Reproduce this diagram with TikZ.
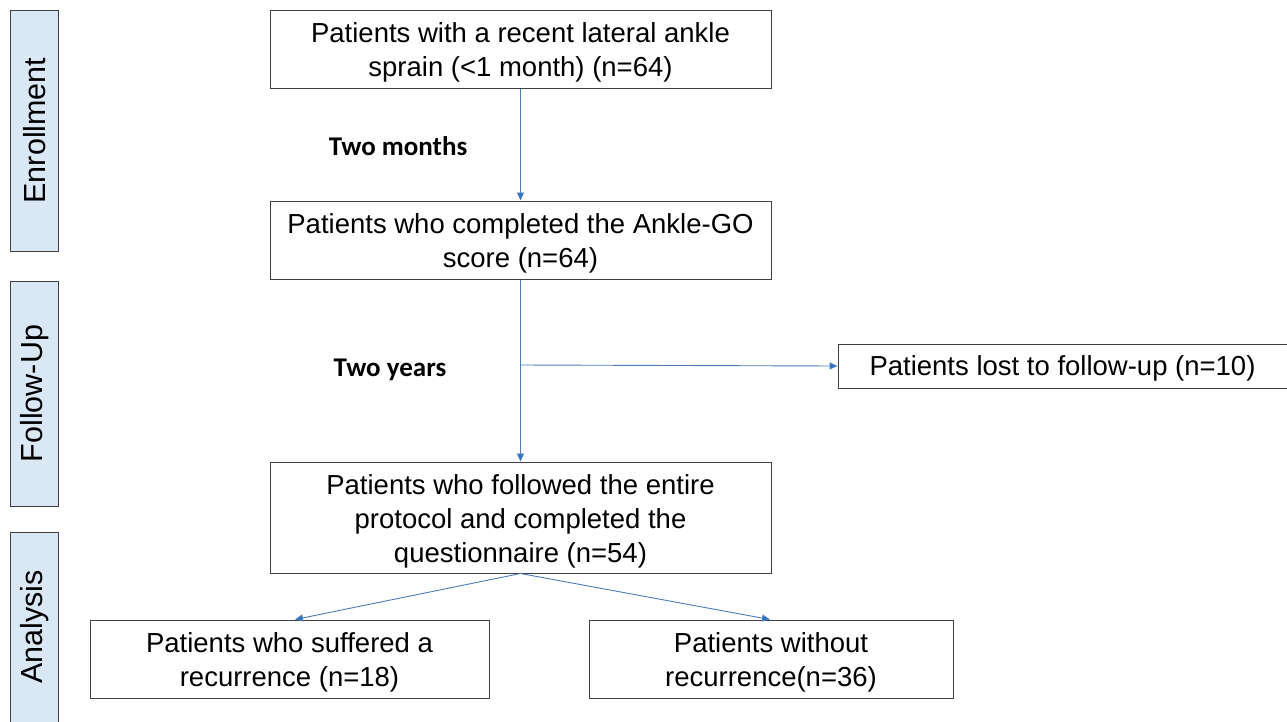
\documentclass[tikz,border=0pt]{standalone}
\usepackage{fontspec}
\setmainfont{Liberation Sans}
\newfontfamily\calfont{Carlito}
\usetikzlibrary{arrows.meta}
\definecolor{sidefill}{HTML}{DAE8F5}
\definecolor{arrowblue}{HTML}{4A7EBB}
\definecolor{tipblue}{HTML}{2E75C6}
\tikzset{
  box/.style={draw=black!75, line width=1pt, fill=white, inner sep=0pt},
  boxtext/.style={align=center, inner sep=0pt, font=\fontsize{27.5}{34}\selectfont},
  side/.style={draw=black!75, line width=1pt, fill=sidefill},
  sidelabel/.style={rotate=90, font=\fontsize{30.5}{34}\selectfont},
  flow/.style={draw=arrowblue, line width=0.9pt, -{Triangle[length=8pt,width=7pt,fill=tipblue]}},
  steplabel/.style={font=\calfont\bfseries\fontsize{27}{32}\selectfont}
}
\begin{document}
\begin{tikzpicture}[x=1pt,y=-1pt]
\useasboundingbox (0,0) rectangle (1287,721);
% side bars
\draw[side] (10,10) rectangle (58,251);
\node[sidelabel] (enr) at (35,130.5) {Enrollment};
\draw[side] (10,281) rectangle (58,506);
\node[sidelabel] (fu) at (35,393.5) {Follow-Up};
\draw[side] (10,532) rectangle (58,730);
\node[sidelabel] (an) at (35,627) {Analysis};
% boxes
\node[box, minimum width=501pt, minimum height=78pt] (b1) at (520.5,49) {};
\node[boxtext] (t1) at ([yshift=-3.5pt]b1.center) {Patients with a recent lateral ankle\\sprain (<1 month) (n=64)};
\node[box, minimum width=501pt, minimum height=78pt] (b2) at (520.5,240) {};
\node[boxtext] (t2) at ([yshift=-3.5pt]b2.center) {Patients who completed the Ankle-GO\\score (n=64)};
\node[box, minimum width=449pt, minimum height=44pt] (b3) at (1062.5,366) {};
\node[boxtext] (t3) at ([yshift=-2pt]b3.center) {Patients lost to follow-up (n=10)};
\node[box, minimum width=501pt, minimum height=111pt] (b4) at (520.5,517.5) {};
\node[boxtext] (t4) at ([yshift=-3.5pt]b4.center) {Patients who followed the entire\\protocol and completed the\\questionnaire (n=54)};
\node[box, minimum width=399pt, minimum height=78pt] (b5) at (289.5,659) {};
\node[boxtext] (t5) at ([yshift=-3.5pt]b5.center) {Patients who suffered a\\recurrence (n=18)};
\node[box, minimum width=364pt, minimum height=78pt] (b6) at (771,659) {};
\node[boxtext] (t6) at ([yshift=-3.5pt]b6.center) {Patients without\\recurrence(n=36)};
% labels
\node[steplabel] (l1) at (398,146) {Two months};
\node[steplabel] (l2) at (390,370) {Two years};
% connectors
\draw[flow] (b1.south) -- (b2.north);
\draw[flow] (b2.south) -- (b4.north);
\coordinate (split) at (521,365);
\draw[flow] (split) -- (b3.west);
\draw[flow] (b4.south) -- ([xshift=5.5pt]b5.north);
\draw[flow] (b4.south) -- ([xshift=-1pt]b6.north);
\end{tikzpicture}
\end{document}
